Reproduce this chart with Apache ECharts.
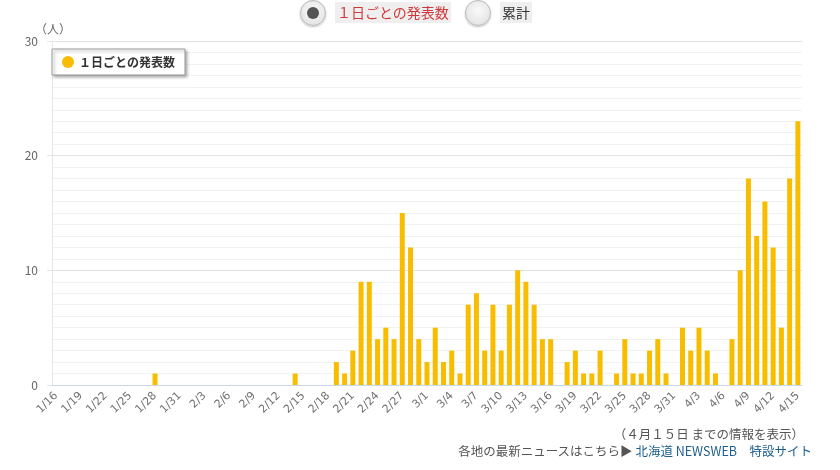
<!DOCTYPE html>
<html>
<head>
<meta charset="utf-8">
<script src="https://cdn.jsdelivr.net/npm/echarts@6/dist/echarts.min.js"></script>
<style>
	html, body { margin: 0; padding: 0; background: #fff; }
	body { width: 840px; height: 470px; position: relative; overflow: hidden; font-family: "Noto Sans CJK JP", sans-serif; }
	#chart { position: absolute; left: 0; top: 0; width: 840px; height: 470px; }
	.radio { position: absolute; top: 0; width: 26px; height: 26px; border-radius: 50%; box-sizing: border-box;
		border: 1px solid #b8b8b8; background: radial-gradient(circle at 50% 40%, #fafafa 0%, #e6e6e6 70%, #d4d4d4 100%);
		box-shadow: 0 1px 2px rgba(0,0,0,0.25); }
	.radio .dot { position: absolute; left: 6px; top: 6px; width: 12px; height: 12px; border-radius: 50%; background: #555; }
	.rlabel { position: absolute; top: 2px; height: 21px; line-height: 21px; font-size: 14px; background: #efefef; padding: 0 2px; }
	.note { position: absolute; font-size: 12.5px; color: #555; white-space: nowrap; }
	.note a { color: #1d5f8e; text-decoration: none; }
</style>
</head>
<body>
<div id="chart"></div>
<div class="radio" style="left:300px;"><div class="dot"></div></div>
<div class="rlabel" style="left:335px;color:#d0383a;">１日ごとの発表数</div>
<div class="radio" style="left:465px;"></div>
<div class="rlabel" style="left:500px;color:#333;">累計</div>
<div class="note" style="right:36px;top:424px;">（４月１５日 までの情報を表示）</div>
<div class="note" style="right:28px;top:441px;">各地の最新ニュースはこちら▶ <a>北海道 NEWSWEB　特設サイト</a></div>
<script>
// 日付（1/16〜4/15）
var dates = [
	'1/16','1/17','1/18','1/19','1/20','1/21','1/22','1/23','1/24','1/25','1/26','1/27','1/28','1/29','1/30','1/31',
	'2/1','2/2','2/3','2/4','2/5','2/6','2/7','2/8','2/9','2/10','2/11','2/12','2/13','2/14','2/15','2/16','2/17','2/18','2/19','2/20',
	'2/21','2/22','2/23','2/24','2/25','2/26','2/27','2/28','2/29',
	'3/1','3/2','3/3','3/4','3/5','3/6','3/7','3/8','3/9','3/10','3/11','3/12','3/13','3/14','3/15','3/16','3/17','3/18','3/19','3/20',
	'3/21','3/22','3/23','3/24','3/25','3/26','3/27','3/28','3/29','3/30','3/31',
	'4/1','4/2','4/3','4/4','4/5','4/6','4/7','4/8','4/9','4/10','4/11','4/12','4/13','4/14','4/15'
];
// 1日ごとの発表数
var janCounts = [0,0,0,0,0,0,0,0,0,0,0,0,1,0,0,0];
var febCounts = [0,0,0,0,0,0,0,0,0,0,0,0,0,1,0,0,0,0,2,1,3,9,9,4,5,4,15,12,4];
var marCounts = [2,5,2,3,1,7,8,3,7,3,7,10,9,7,4,4,0,2,3,1,1,3,0,1,4,1,1,3,4,1,0];
var aprCounts = [5,3,5,3,1,0,4,10,18,13,16,12,5,18,23];
var yTicks = [0, 10, 20, 30];

var daily = janCounts.concat(febCounts, marCounts, aprCounts);

var chart = echarts.init(document.getElementById('chart'));
var labelFont = '"Noto Sans CJK JP", sans-serif';
chart.setOption({
	animation: false,
	textStyle: { fontFamily: labelFont },
	grid: { left: 52, right: 38, top: 41, bottom: 85 },
	legend: {
		left: 52,
		top: 49,
		padding: [7, 10, 7, 10],
		itemWidth: 12,
		itemHeight: 12,
		itemGap: 8,
		icon: 'circle',
		backgroundColor: '#fff',
		borderColor: '#999',
		borderWidth: 1,
		shadowColor: 'rgba(0,0,0,0.35)',
		shadowBlur: 3,
		shadowOffsetX: 2,
		shadowOffsetY: 2,
		textStyle: { color: '#333', fontSize: 12, fontWeight: 600, fontFamily: labelFont },
		data: ['１日ごとの発表数']
	},
	xAxis: {
		type: 'category',
		data: dates,
		axisLine: { lineStyle: { color: '#ccd6eb', width: 1 } },
		axisTick: { interval: 2, alignWithLabel: true, length: 10, lineStyle: { color: '#ccd6eb' } },
		axisLabel: { interval: 2, rotate: 45, margin: 9, color: '#707070', fontSize: 11, fontFamily: '"DejaVu Sans", sans-serif' },
		splitLine: { show: false }
	},
	yAxis: {
		type: 'value',
		min: yTicks[0],
		max: yTicks[yTicks.length - 1],
		interval: 10,
		name: '（人）',
		nameLocation: 'end',
		nameGap: 4,
		nameTextStyle: { color: '#666', fontSize: 12, align: 'left', padding: [0, 0, 0, -17] },
		axisLine: { show: true, lineStyle: { color: '#e6e6e6' } },
		axisTick: { show: true, length: 5, lineStyle: { color: '#e6e6e6' } },
		axisLabel: { color: '#666', fontSize: 12, margin: 14, fontFamily: labelFont },
		splitLine: { lineStyle: { color: '#e3e3e3' } },
		minorTick: { show: false, splitNumber: 10 },
		minorSplitLine: { show: true, lineStyle: { color: '#f2f2f2' } }
	},
	series: [{
		name: '１日ごとの発表数',
		type: 'bar',
		data: daily,
		barWidth: 5,
		itemStyle: { color: '#f9bd00' }
	}]
});
</script>
</body>
</html>
